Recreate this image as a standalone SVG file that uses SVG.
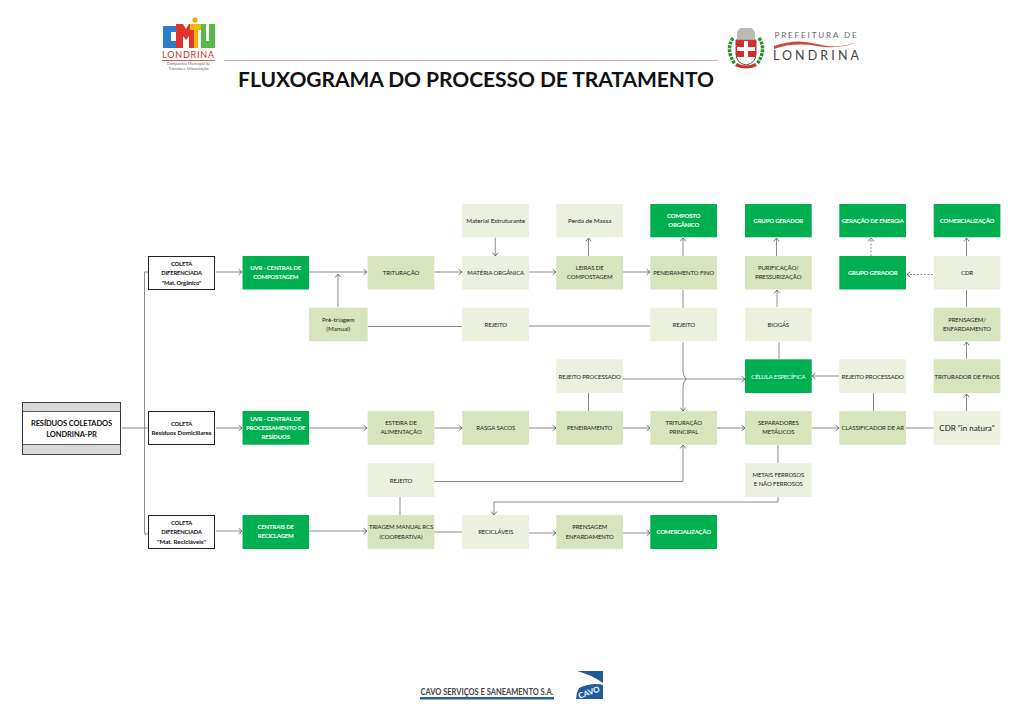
<svg xmlns="http://www.w3.org/2000/svg" width="1023" height="723" viewBox="0 0 1023 723">
<style>
text{font-family:"Lato","Open Sans","Liberation Sans",sans-serif;font-size:6px;letter-spacing:-.1px;fill:#222;text-anchor:middle}
.g rect{fill:#00b050}.g text{fill:#fff;font-weight:700;letter-spacing:-.17px}
.m rect{fill:#d8e4bc}
.l rect{fill:#ebf1de}
.k rect{fill:#fff;stroke:#222;stroke-width:1}.k text{fill:#111;font-weight:700;font-size:5.800px;letter-spacing:-.12px}
.c path{fill:none;stroke:#808080;stroke-width:.9}
.c .t{stroke:#b0b0b0;stroke-width:1.5}
.c .a{marker-end:url(#ar)}
.c .d{stroke-dasharray:2 1.5;stroke:#666;stroke-width:.7}
</style>
<defs>
<marker id="ar" markerUnits="userSpaceOnUse" markerWidth="8" markerHeight="8" refX="6" refY="4" orient="auto"><path d="M2.600 1.200L6 4L2.600 6.800" fill="none" stroke="#555" stroke-width=".8"/></marker>
</defs>
<rect width="1023" height="723" fill="#fff"/>
<g id="logo-cmtu">
<path d="M163 26h13v6h-5v9h5v7h-13z" fill="#2a7fc4"/>
<path d="M176 24h7l3 5l3-5h6v24h-6v-12l-3 4l-3-4v12h-7z" fill="#e0342f"/>
<circle cx="195" cy="20" r="2.600" fill="#f2a900"/>
<path d="M190 24h11v6h-3v18h-4v-18h-4z" fill="#f2b705"/>
<path d="M201 24h5v17h3v-17h6v24h-14z" fill="#58b947"/>
<text x="188.500" y="58" style="font-size:9px;fill:#c8342c;letter-spacing:.8px">LONDRINA</text>
<rect x="162" y="60" width="53" height=".8" fill="#c8342c"/>
<text x="188.500" y="65" style="font-size:4px;fill:#666;letter-spacing:0">Companhia Municipal de</text>
<text x="188.500" y="70" style="font-size:4px;fill:#666;letter-spacing:0">Trânsito e Urbanização</text>
</g>
<g id="header-rule"><path d="M224 60.500H718" stroke="#d9aaa3" stroke-width="1.200"/></g>
<text id="title" x="476" y="87" style="font-size:21px;letter-spacing:-.05px;font-weight:700;fill:#111">FLUXOGRAMA DO PROCESSO DE TRATAMENTO</text>
<g id="logo-londrina">
<path d="M736 40h20v14q0 9-10 11q-10-2-10-11z" fill="#fff" stroke="#555" stroke-width="1"/>
<rect x="736" y="40" width="20" height="17" fill="#d32f2f"/>
<path d="M744 41h4v6h7v4h-7v7h-4v-7h-7v-4h7z" fill="#fff"/>
<path d="M737 32l3-4h12l3 4v7h-18z" fill="#b9b9b9"/>
<path d="M733 38q-8 12 2 26M759 38q8 12-2 26" fill="none" stroke="#2e8b3a" stroke-width="3.500" stroke-dasharray="3 1"/>
<path d="M737 63q9 5 18 0l2 3q-11 5-22 0z" fill="#c0392b"/>
<text x="816.500" y="38" style="font-size:8px;fill:#666;letter-spacing:1.900px">PREFEITURA DE</text>
<path d="M774 46q22-8 43-2t43-3q-20 9-43 5t-43 3z" fill="#d04a3c"/>
<text x="817.500" y="60" style="font-size:12.500px;fill:#444;letter-spacing:3.100px">LONDRINA</text>
</g>
<g id="connectors" class="c">
<path class="t" d="M122 428H148"/>
<path d="M148 272H144.500V534H148"/>
<path class="a" d="M216 272H242"/>
<path class="t a" d="M216 428H242"/>
<path class="a" d="M216 531H242"/>
<path class="a" d="M309 272H367"/>
<path class="a" d="M338 307V274"/>
<path class="a" d="M434.500 272H462"/>
<path class="a" d="M529 272H556"/>
<path class="a" d="M623 272H650"/>
<path class="a" d="M495.300 237.500V256"/>
<path class="a" d="M588.500 256V238"/>
<path class="a" d="M683 256V238"/>
<path class="a" d="M776.500 256V238"/>
<path class="a d" d="M871 256V238"/>
<path class="a d" d="M933 274.500H907"/>
<path class="a" d="M966.500 256V238"/>
<path d="M966.500 307V290"/>
<path class="a" d="M966.500 359V342"/>
<path class="a" d="M966.500 411V394"/>
<path class="a" d="M777 307V290"/>
<path d="M779 359V342"/>
<path class="a" d="M839 376H812"/>
<path d="M873.500 411V393"/>
<path d="M683 290V308"/>
<path class="a" d="M683 342V372Q683.500 376 686 379Q683.500 382 683 386V411"/>
<path d="M368 326.500H462"/>
<path class="t" d="M529 326H650"/>
<path class="a" d="M623 379H745"/>
<path d="M588.500 411V393"/>
<path class="t a" d="M309 428H367"/>
<path class="t a" d="M434.500 428H462"/>
<path class="t a" d="M529 428H556"/>
<path class="t a" d="M623 428H650"/>
<path class="t a" d="M717 428H745"/>
<path class="t a" d="M811.700 428H839"/>
<path class="t" d="M906 428H934"/>
<path d="M400 515V497"/>
<path class="a" d="M434 481.500H683V445"/>
<path d="M778 445V463"/>
<path class="a" d="M778 497V502H494V515"/>
<path class="a" d="M309 531H367"/>
<path d="M434 532H462"/>
<path class="a" d="M529 533H556"/>
<path class="a" d="M623 533H650"/>
</g>
<g id="residuos"><rect x="22.500" y="402.500" width="98" height="52" fill="#fff" stroke="#333" stroke-width="1"/><rect x="22.500" y="402.500" width="98" height="9" fill="#d9d9d9" stroke="#333" stroke-width=".8"/><rect x="22.500" y="444.500" width="98" height="10" fill="#d9d9d9" stroke="#333" stroke-width=".8"/><text x="71.500" y="425.500" style="font-size:7.500px;font-weight:700;fill:#111">RESÍDUOS COLETADOS</text><text x="71.500" y="437" style="font-size:7.500px;font-weight:700;fill:#111">LONDRINA-PR</text></g>
<g id="col1" class="k"><rect x="148.500" y="256.500" width="66" height="33"/><text x="181.500" y="266">COLETA</text><text x="181.500" y="275">DIFERENCIADA</text><text x="181.500" y="285">"Mat. Orgânico"</text></g>
<g id="col2" class="k"><rect x="148.500" y="411.500" width="66" height="33"/><text x="181.500" y="426">COLETA</text><text x="181.500" y="435" style="font-size:6.200px;letter-spacing:0">Resíduos Domiciliares</text></g>
<g id="col3" class="k"><rect x="148.500" y="515.500" width="66" height="33"/><text x="181.500" y="525">COLETA</text><text x="181.500" y="534">DIFERENCIADA</text><text x="181.500" y="543.500" style="font-size:6.200px;letter-spacing:0">"Mat. Recicláveis"</text></g>
<g id="n1" class="g"><rect x="242.500" y="256" width="66.500" height="33.500"/><text x="275.700" y="270">UVR - CENTRAL DE</text><text x="275.700" y="279">COMPOSTAGEM</text></g>
<g id="n2" class="g"><rect x="242.500" y="411" width="66.500" height="33.700"/><text x="275.700" y="421">UVR - CENTRAL DE</text><text x="275.700" y="430">PROCESSAMENTO DE</text><text x="275.700" y="439">RESÍDUOS</text></g>
<g id="n3" class="g"><rect x="242.500" y="515" width="66.500" height="34"/><text x="275.700" y="529">CENTRAIS DE</text><text x="275.700" y="538">RECICLAGEM</text></g>
<g id="n4" class="m"><rect x="367.700" y="256" width="66.600" height="33.500"/><text x="401" y="275">TRITURAÇÃO</text></g>
<g id="n5" class="l"><rect x="462.300" y="204" width="66.700" height="33.300"/><text x="495.700" y="223" style="font-size:6.300px;letter-spacing:0">Material Estruturante</text></g>
<g id="n6" class="l"><rect x="462.300" y="256" width="66.700" height="33.500"/><text x="495.700" y="275">MATÉRIA ORGÂNICA</text></g>
<g id="n7" class="l"><rect x="556.300" y="204" width="66.700" height="33.300"/><text x="589.700" y="223" style="font-size:6.300px;letter-spacing:0">Perda de Massa</text></g>
<g id="n8" class="m"><rect x="556.300" y="256" width="66.700" height="33.500"/><text x="589.700" y="270">LEIRAS DE</text><text x="589.700" y="279">COMPOSTAGEM</text></g>
<g id="n9" class="g"><rect x="650.300" y="204" width="66.700" height="33.300"/><text x="683.700" y="218">COMPOSTO</text><text x="683.700" y="227">ORGÂNICO</text></g>
<g id="n10" class="m"><rect x="650.300" y="256" width="66.700" height="33.500"/><text x="683.700" y="275">PENEIRAMENTO FINO</text></g>
<g id="n11" class="g"><rect x="745" y="204" width="66.700" height="33.300"/><text x="778.300" y="223">GRUPO GERADOR</text></g>
<g id="n12" class="m"><rect x="745" y="256" width="66.700" height="33.500"/><text x="778.300" y="270">PURIFICAÇÃO/</text><text x="778.300" y="279">PRESSURIZAÇÃO</text></g>
<g id="n13" class="g"><rect x="839.300" y="204" width="66.700" height="33.300"/><text x="872.700" y="223">GERAÇÃO DE ENERGIA</text></g>
<g id="n14" class="g"><rect x="839.300" y="256" width="66.700" height="33.500"/><text x="872.700" y="275">GRUPO GERADOR</text></g>
<g id="n15" class="g"><rect x="933.700" y="204" width="66.700" height="33.300"/><text x="967" y="223">COMERCIALIZAÇÃO</text></g>
<g id="n16" class="l"><rect x="933.700" y="256" width="66.700" height="33.500"/><text x="967" y="275">CDR</text></g>
<g id="n17" class="m"><rect x="309" y="307.700" width="58.700" height="33.600"/><text x="338.300" y="322" style="font-size:6.300px;letter-spacing:0">Pré-triagem</text><text x="338.300" y="331" style="font-size:6.300px;letter-spacing:0">(Manual)</text></g>
<g id="n18" class="l"><rect x="462.300" y="307.700" width="66.700" height="33.600"/><text x="495.700" y="326.500">REJEITO</text></g>
<g id="n19" class="l"><rect x="650.300" y="307.700" width="66.700" height="33.600"/><text x="683.700" y="326.500">REJEITO</text></g>
<g id="n20" class="l"><rect x="745" y="307.700" width="66.700" height="33.600"/><text x="778.300" y="326.500">BIOGÁS</text></g>
<g id="n21" class="m"><rect x="933.700" y="307.700" width="66.700" height="33.600"/><text x="967" y="322">PRENSAGEM/</text><text x="967" y="331">ENFARDAMENTO</text></g>
<g id="n22" class="l"><rect x="556.300" y="359.300" width="66.700" height="33.700"/><text x="589.700" y="378.500">REJEITO PROCESSADO</text></g>
<g id="n23" class="g"><rect x="745" y="359.300" width="66.700" height="33.700"/><text x="778.300" y="378.500" style="font-weight:400;letter-spacing:-.1px">CÉLULA ESPECÍFICA</text></g>
<g id="n24" class="l"><rect x="839.300" y="359.300" width="66.700" height="33.700"/><text x="872.700" y="378.500">REJEITO PROCESSADO</text></g>
<g id="n25" class="m"><rect x="933.700" y="359.300" width="66.700" height="33.700"/><text x="967" y="378.500">TRITURADOR DE FINOS</text></g>
<g id="n26" class="m"><rect x="367.700" y="411" width="66.600" height="33.700"/><text x="401" y="425">ESTEIRA DE</text><text x="401" y="434">ALIMENTAÇÃO</text></g>
<g id="n27" class="m"><rect x="462.300" y="411" width="66.700" height="33.700"/><text x="495.700" y="430">RASGA SACOS</text></g>
<g id="n28" class="m"><rect x="556.300" y="411" width="66.700" height="33.700"/><text x="589.700" y="430">PENEIRAMENTO</text></g>
<g id="n29" class="m"><rect x="650.300" y="411" width="66.700" height="33.700"/><text x="683.700" y="425">TRITURAÇÃO</text><text x="683.700" y="434">PRINCIPAL</text></g>
<g id="n30" class="m"><rect x="745" y="411" width="66.700" height="33.700"/><text x="778.300" y="425">SEPARADORES</text><text x="778.300" y="434">METÁLICOS</text></g>
<g id="n31" class="m"><rect x="839.300" y="411" width="66.700" height="33.700"/><text x="872.700" y="430">CLASSIFICADOR DE AR</text></g>
<g id="n32" class="l"><rect x="933.700" y="411" width="66.700" height="33.700"/><text x="967" y="431" style="font-size:8px;letter-spacing:0">CDR "in natura"</text></g>
<g id="n33" class="l"><rect x="367.700" y="463.300" width="66.600" height="33.700"/><text x="401" y="482.500">REJEITO</text></g>
<g id="n34" class="l"><rect x="745" y="463.300" width="66.700" height="33.700"/><text x="778.300" y="477">METAIS FERROSOS</text><text x="778.300" y="486">E NÃO FERROSOS</text></g>
<g id="n35" class="m"><rect x="367.700" y="515" width="66.600" height="34"/><text x="401" y="529">TRIAGEM MANUAL RCS</text><text x="401" y="538.500">(COOPERATIVA)</text></g>
<g id="n36" class="l"><rect x="462.300" y="515" width="66.700" height="34"/><text x="495.700" y="534">RECICLÁVEIS</text></g>
<g id="n37" class="m"><rect x="556.300" y="515" width="66.700" height="34"/><text x="589.700" y="529">PRENSAGEM</text><text x="589.700" y="538.500">ENFARDAMENTO</text></g>
<g id="n38" class="g"><rect x="650.300" y="515" width="66.700" height="34"/><text x="683.700" y="534">COMERCIALIZAÇÃO</text></g>
<g id="logo-cavo">
<text x="487" y="695" textLength="133" lengthAdjust="spacingAndGlyphs" style="font-size:9.500px;letter-spacing:0;fill:#444;font-weight:700">CAVO SERVIÇOS E SANEAMENTO S.A.</text>
<rect x="420" y="697" width="134" height="2.500" fill="#2a5f9e"/>
<path d="M577 671H603V683Q592 675 577 671Z" fill="#1f5c99"/>
<path d="M576 699Q576 693 579 688Q592 682 603 685V699Z" fill="#1f5c99"/>
<text transform="translate(590 695) rotate(-20)" style="font-size:8px;letter-spacing:0;fill:#fff;font-weight:700">CAVO</text>
</g>
</svg>
